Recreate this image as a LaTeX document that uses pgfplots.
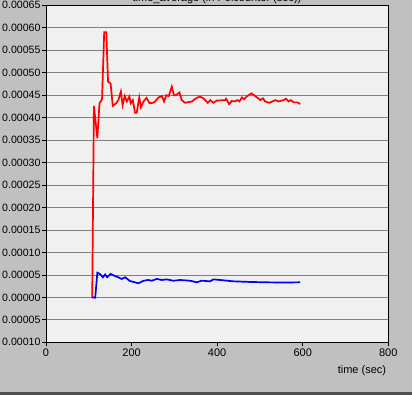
\documentclass[border=0pt]{standalone}
\usepackage{pgfplots}
\pgfplotsset{compat=1.18}
\usepackage{fontspec}
\setmainfont{Liberation Sans}
\definecolor{bgout}{RGB}{192,192,192}
\definecolor{bgin}{RGB}{240,240,240}
\definecolor{gridc}{RGB}{128,128,128}
\definecolor{darkbar}{RGB}{80,80,80}
\begin{document}
\begin{tikzpicture}[x=1bp,y=1bp]
\useasboundingbox (0,0) rectangle (412,395);
\fill[bgout] (0,0) rectangle (412,395);
\fill[darkbar] (0,0) rectangle (412,3.5);
\node[anchor=base, inner sep=0, font=\fontsize{11bp}{13bp}\selectfont] at (217,393.5) {time\_average (in Polcounter (sec))};
\begin{axis}[
  at={(46bp,52.7bp)}, anchor=south west,
  scale only axis, width=342.3bp, height=337bp,
  xmin=0, xmax=800, ymin=-0.0001, ymax=0.00065,
  axis background/.style={fill=bgin},
  axis line style={black, line width=0.8bp},
  xtick={0,200,400,600,800},
  xticklabels={0,200,400,600,800},
  ytick={-0.0001,-0.00005,0,0.00005,0.0001,0.00015,0.0002,0.00025,0.0003,0.00035,0.0004,0.00045,0.0005,0.00055,0.0006,0.00065},
  yticklabels={0.00010,0.00005,0.00000,0.00005,0.00010,0.00015,0.00020,0.00025,0.00030,0.00035,0.00040,0.00045,0.00050,0.00055,0.00060,0.00065},
  scaled y ticks=false,
  tick align=outside,
  major tick length=4bp,
  tick style={black, line width=0.8bp},
  xtick pos=bottom, ytick pos=left,
  ymajorgrids,
  grid style={gridc, line width=0.8bp},
  tick label style={font=\fontsize{11bp}{13bp}\selectfont, inner sep=0pt},
  yticklabel style={anchor=east, xshift=-1.3bp, font=\fontsize{10.6bp}{13bp}\selectfont},
  xticklabel style={anchor=north, yshift=-2bp},
  xlabel={time (sec)},
  xlabel style={at={(axis description cs:0.923,-0.084)}, anchor=center, font=\fontsize{11bp}{13bp}\selectfont, inner sep=0pt},
  clip=true,
]
\addplot[red, line width=1.7bp] coordinates {
(108,0) (112,0.000426) (120,0.000354) (125,0.000432) (131,0.000441) (136,0.00059) (141,0.00059) (145,0.00048) (151,0.000476) (156,0.000426)
(164,0.000432) (169,0.000439) (175,0.000458) (179,0.000428) (184,0.000448) (189,0.000436) (195,0.000447) (198,0.000432) (203,0.000439)
(208,0.000411) (212,0.000411) (218,0.000445) (222,0.000423) (228,0.000436) (235,0.000444) (242,0.000432) (250,0.000433) (255,0.000436)
(263,0.000445) (271,0.000448) (276,0.000436) (281,0.00045) (287,0.000448) (294,0.000469) (299,0.00045) (304,0.00045) (312,0.000456)
(317,0.000439) (325,0.000433) (341,0.000436) (349,0.000442) (359,0.000447) (368,0.000443) (378,0.000433) (384,0.000439) (391,0.000433)
(399,0.000438) (419,0.000439) (421,0.000442) (428,0.00043) (434,0.000437) (442,0.000436) (447,0.000439) (452,0.000436) (458,0.000445)
(463,0.000441) (469,0.000447) (480,0.000454) (489,0.000448) (501,0.000439) (507,0.000443) (512,0.000436) (522,0.000433) (536,0.000439)
(543,0.000436) (555,0.000439) (561,0.000442) (567,0.000436) (572,0.000439) (579,0.000434) (588,0.000434) (594,0.00043)
};
\addplot[blue, line width=1.7bp] coordinates {
(107,0) (115,-0.0000007) (120,0.000055) (126,0.000052) (133,0.0000447) (138,0.000051) (143,0.0000447) (151,0.000052) (161,0.0000476)
(169,0.0000447) (177,0.000041) (185,0.0000447) (196,0.0000365) (216,0.0000314) (228,0.000037) (239,0.0000387) (247,0.000037)
(259,0.000041) (271,0.0000387) (282,0.00004) (298,0.000037) (313,0.0000387) (337,0.000037) (352,0.0000335) (364,0.000037)
(384,0.0000357) (391,0.00004) (407,0.0000387) (438,0.0000357) (477,0.0000343) (516,0.0000335) (555,0.000033) (594,0.0000335)
};
\end{axis}
\end{tikzpicture}
\end{document}
